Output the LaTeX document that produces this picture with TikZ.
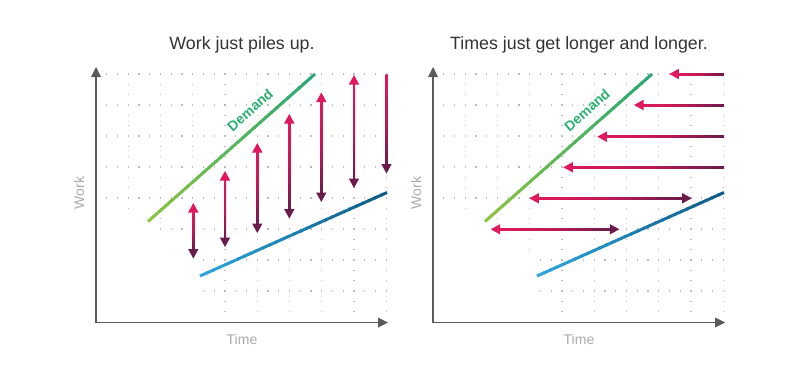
\documentclass[tikz,border=0pt]{standalone}
\usepackage{fontspec}
\setmainfont{Liberation Sans}
\usetikzlibrary{calc}
\definecolor{axisc}{HTML}{5A5A5A}
\definecolor{gridc}{HTML}{BDBDBD}
\definecolor{greenA}{HTML}{8CC43F}
\definecolor{greenB}{HTML}{25A876}
\definecolor{blueA}{HTML}{2EA8DF}
\definecolor{blueB}{HTML}{0C5985}
\definecolor{crim}{HTML}{E0195A}
\definecolor{purp}{HTML}{6A1B4B}
\definecolor{titlec}{HTML}{333333}
\definecolor{labc}{HTML}{AAAAAA}
\definecolor{demc}{HTML}{2BB070}
\newcommand{\gradseg}[5]{%
  \foreach \i in {0,...,29}{%
    \pgfmathsetmacro\ta{\i/30}%
    \pgfmathsetmacro\tb{min(1,(\i+1.25)/30)}%
    \pgfmathsetmacro\pc{100-100*(\i+0.5)/30}%
    \draw[line width=#5, color=#3!\pc!#4] ($#1!\ta!#2$) -- ($#1!\tb!#2$);}}
\newcommand{\uphead}[3]{\fill[#3] (#1,#2) -- (#1-5.2,#2+9.5) -- (#1+5.2,#2+9.5) -- cycle;}
\newcommand{\downhead}[3]{\fill[#3] (#1,#2) -- (#1-5.2,#2-9.5) -- (#1+5.2,#2-9.5) -- cycle;}
\newcommand{\lefthead}[3]{\fill[#3] (#1,#2) -- (#1+9.5,#2-5.2) -- (#1+9.5,#2+5.2) -- cycle;}
\newcommand{\righthead}[3]{\fill[#3] (#1,#2) -- (#1-9.5,#2-5.2) -- (#1-9.5,#2+5.2) -- cycle;}
\newcommand{\panelgrid}[1]{%
  \foreach \j in {1,...,8}{\foreach \k in {1,...,27}{%
    \fill[gridc] (96+#1+\k*10.75-0.65, 322-\j*31-0.65) rectangle ++(1.3,1.3);}}
  \foreach \ii in {1,...,9}{\foreach \m in {1,...,24}{%
    \fill[gridc] (96+#1+\ii*32.25-0.65, 322-\m*10.33-0.65) rectangle ++(1.3,1.3);}}
  \fill[white] (97+#1,212) -- (134+#1,212) -- (155+#1,232) -- (190+#1,256) -- (200+#1,268)
     -- (199+#1,292) -- (214+#1,321) -- (97+#1,321) -- cycle;}
\newcommand{\panelaxes}[1]{%
  \draw[axisc, line width=1.8] (96+#1,323.4) -- (96+#1,76);
  \fill[axisc] (96+#1,67) -- (91+#1,77) -- (101+#1,77) -- cycle;
  \draw[axisc, line width=1.8] (95.1+#1,322.5) -- (379+#1,322.5);
  \fill[axisc] (388+#1,322.5) -- (378+#1,317.5) -- (378+#1,327.5) -- cycle;}
\begin{document}
\begin{tikzpicture}[x=1pt,y=-1pt]
\useasboundingbox (0,0) rectangle (800,388);
\fill[white] (0,0) rectangle (800,388);
% grids
\panelgrid{0}
\panelgrid{337}
% titles
\node[titlec, font=\fontsize{17.8}{20}\selectfont] (t1) at (242,45) {Work just piles up.};
\node[titlec, font=\fontsize{17.8}{20}\selectfont] (t2) at (579,45) {Times just get longer and longer.};
% axis labels
\node[labc, font=\fontsize{14}{16}\selectfont, rotate=90] (w1) at (79,193) {Work};
\node[labc, font=\fontsize{14}{16}\selectfont, rotate=90] (w2) at (416,193) {Work};
\node[labc, font=\fontsize{14}{16}\selectfont] (ti1) at (242,339) {Time};
\node[labc, font=\fontsize{14}{16}\selectfont] (ti2) at (579,339) {Time};
% left panel lines
\gradseg{(148,221.5)}{(315,74)}{greenA}{greenB}{3}
\gradseg{(200,276)}{(387,192.5)}{blueA}{blueB}{3}
\node[demc, font=\bfseries\fontsize{14}{16}\selectfont, rotate=41.4] (d1) at (250,110) {Demand};
% right panel lines
\gradseg{(485,221.5)}{(652,74)}{greenA}{greenB}{3}
\gradseg{(537,276)}{(724,192.5)}{blueA}{blueB}{3}
\node[demc, font=\bfseries\fontsize{14}{16}\selectfont, rotate=41.4] (d2) at (587,110) {Demand};
% left panel vertical arrows
\foreach \x/\yt/\yb in {193.3/203/258.5, 225/171/247, 257.3/143/233, 289.3/114/218.5, 321.3/92.5/202, 354/75/188}{
  \shade[top color=crim, bottom color=purp, middle color=crim!70!purp] (\x-1,\yt+8) rectangle (\x+1,\yb-8);
  \uphead{\x}{\yt}{crim}
  \downhead{\x}{\yb}{purp}
}
\shade[top color=crim, bottom color=purp, middle color=crim!70!purp] (385.5,74) rectangle (387.5,165.5);
\downhead{386.5}{173.5}{purp}
% right panel horizontal arrows
\foreach \y/\xl in {74/669.3, 105/634, 136.7/597.3, 167.3/563.3}{
  \shade[left color=crim, right color=purp, middle color=crim!70!purp] (\xl+8,\y-1) rectangle (724,\y+1);
  \lefthead{\xl}{\y}{crim}
}
\foreach \y/\xl/\xr in {198.3/529.3/691.7, 229.3/490.7/619.3}{
  \shade[left color=crim, right color=purp, middle color=crim!70!purp] (\xl+8,\y-1) rectangle (\xr-8,\y+1);
  \lefthead{\xl}{\y}{crim}
  \righthead{\xr}{\y}{purp}
}
% axes
\panelaxes{0}
\panelaxes{337}
\end{tikzpicture}
\end{document}
